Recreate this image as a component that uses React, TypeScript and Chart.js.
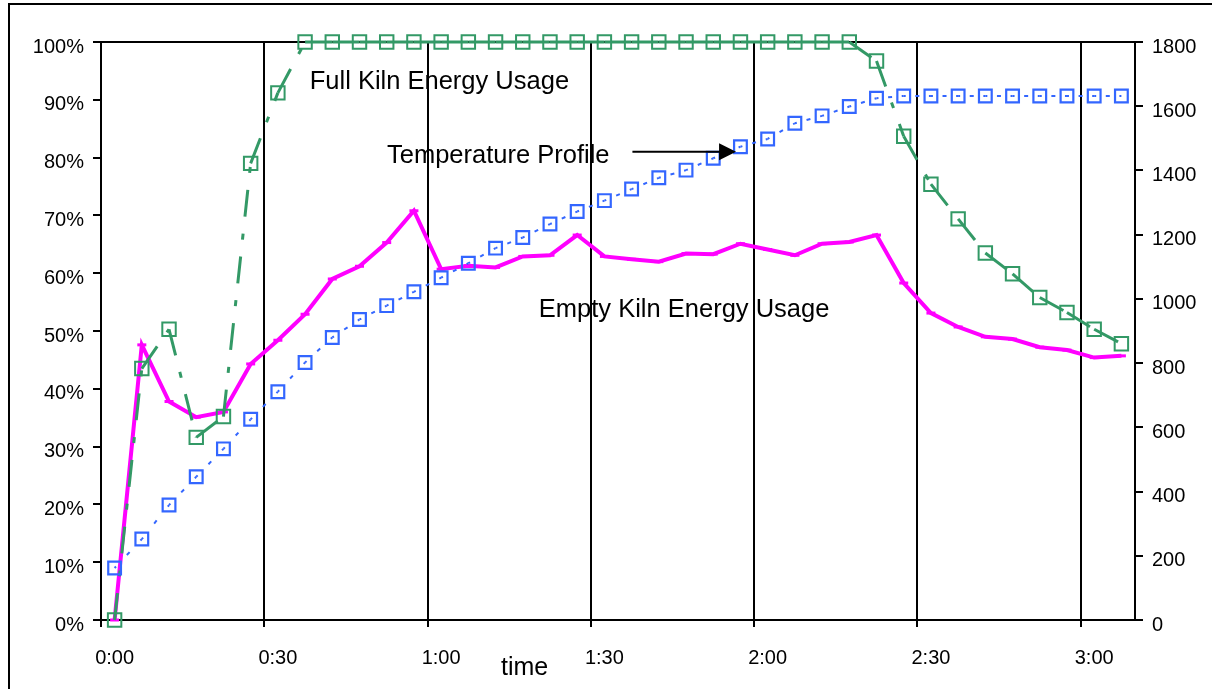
import React, { useEffect, useRef } from 'react';
import { Chart, registerables } from 'chart.js';

Chart.register(...registerables);

// ---- data ----
const timeLabels = [
  '0:00', '0:05', '0:10', '0:15', '0:20', '0:25',
  '0:30', '0:35', '0:40', '0:45', '0:50', '0:55',
  '1:00', '1:05', '1:10', '1:15', '1:20', '1:25',
  '1:30', '1:35', '1:40', '1:45', '1:50', '1:55',
  '2:00', '2:05', '2:10', '2:15', '2:20', '2:25',
  '2:30', '2:35', '2:40', '2:45', '2:50', '2:55',
  '3:00', '3:05',
];

// Empty kiln energy usage (%), left axis
const emptyKilnUsage = [
  0, 47.6, 37.8, 35.1, 36.0, 44.3, 48.4, 52.9, 59.0, 61.2, 65.3, 70.8,
  60.7, 61.3, 61.0, 62.9, 63.1, 66.6, 62.9, 62.4, 62.0, 63.4, 63.3, 65.1,
  64.1, 63.1, 65.1, 65.4, 66.6, 58.3, 53.1, 50.7, 49.0, 48.6, 47.2, 46.7,
  45.4, 45.7,
];

// Full kiln energy usage (%), left axis
const fullKilnUsage = [
  0, 43.5, 50.3, 31.6, 35.2, 79.0, 91.2, 100, 100, 100, 100, 100,
  100, 100, 100, 100, 100, 100, 100, 100, 100, 100, 100, 100,
  100, 100, 100, 100, 96.7, 83.7, 75.4, 69.4, 63.5, 59.9, 55.8, 53.2,
  50.3, 47.8,
];

// Temperature profile, right axis
const temperatureProfile = [
  162, 252, 358, 446, 533, 625, 711, 802, 880, 936, 979, 1022,
  1066, 1111, 1158, 1191, 1233, 1272, 1306, 1342, 1377, 1401, 1438, 1474,
  1498, 1547, 1570, 1599, 1625, 1632, 1632, 1632, 1632, 1632, 1632, 1632,
  1632, 1632,
];

const percentTicks = { min: 0, max: 100, step: 10 };
const tempTicks = { min: 0, max: 1800, step: 200 };

// text annotations: position given as (category index, percent on left axis)
const annotationTexts = [
  { text: 'Full Kiln Energy Usage', idx: 7.17, pct: 91.8 },
  { text: 'Temperature Profile', idx: 10.01, pct: 79.0 },
  { text: 'Empty Kiln Energy Usage', idx: 15.59, pct: 52.4 },
];
const arrowSpec = { fromIdx: 19.03, toIdx: 22.84, pct: 81.0 };
const xAxisTitle = { text: 'time', idx: 14.2 };

const FONT_FAMILY = "'Liberation Sans', Arial, sans-serif";
const GREEN = '#339966';
const BLUE = '#3366FF';
const MAGENTA = '#FF00FF';

const framePlugin = {
  id: 'frame',
  beforeDraw(chart: any) {
    const { ctx, width, height } = chart;
    ctx.save();
    ctx.fillStyle = '#fff';
    ctx.fillRect(0, 0, width, height);
    ctx.strokeStyle = '#000';
    ctx.lineWidth = 2;
    ctx.strokeRect(9, 4, width + 50, height + 50);
    ctx.restore();
  },
  beforeDatasetsDraw(chart: any) {
    const { ctx, chartArea } = chart;
    ctx.save();
    ctx.strokeStyle = '#000';
    ctx.lineWidth = 2;
    ctx.beginPath();
    ctx.moveTo(chartArea.left, Math.round(chartArea.top));
    ctx.lineTo(chartArea.right, Math.round(chartArea.top));
    ctx.stroke();
    ctx.restore();
  },
};

const annotationPlugin = {
  id: 'annotations',
  afterDatasetsDraw(chart: any) {
    const { ctx } = chart;
    const xs = chart.scales.x;
    const ys = chart.scales.y;
    ctx.save();
    ctx.fillStyle = '#000';
    ctx.font = `25.5px ${FONT_FAMILY}`;
    ctx.textAlign = 'left';
    ctx.textBaseline = 'alphabetic';
    for (const a of annotationTexts) {
      ctx.fillText(a.text, xs.getPixelForValue(a.idx), ys.getPixelForValue(a.pct));
    }
    // arrow
    const x0 = xs.getPixelForValue(arrowSpec.fromIdx);
    const x1 = xs.getPixelForValue(arrowSpec.toIdx);
    const y = ys.getPixelForValue(arrowSpec.pct);
    ctx.strokeStyle = '#000';
    ctx.lineWidth = 2;
    ctx.beginPath();
    ctx.moveTo(x0, y);
    ctx.lineTo(x1 - 14, y);
    ctx.stroke();
    ctx.beginPath();
    ctx.moveTo(x1, y);
    ctx.lineTo(x1 - 17, y - 8.5);
    ctx.lineTo(x1 - 17, y + 8.5);
    ctx.closePath();
    ctx.fill();
    // x axis title
    ctx.font = `25px ${FONT_FAMILY}`;
    ctx.fillText(xAxisTitle.text, xs.getPixelForValue(xAxisTitle.idx), xs.bottom - 14);
    ctx.restore();
  },
};

export default function App() {
  const canvasRef = useRef<HTMLCanvasElement | null>(null);

  useEffect(() => {
    if (!canvasRef.current) return;
    const tickFont = { family: FONT_FAMILY, size: 20 };
    const chart = new Chart(canvasRef.current, {
      type: 'line',
      data: {
        labels: timeLabels,
        datasets: [
          {
            label: 'Temperature Profile',
            data: temperatureProfile,
            yAxisID: 'y1',
            borderColor: BLUE,
            borderWidth: 2,
            pointStyle: 'rect',
            pointRadius: 9,
            pointBorderWidth: 2.2,
            pointBorderColor: BLUE,
            pointBackgroundColor: 'rgba(0,0,0,0)',
            tension: 0,
            fill: false,
            clip: false,
            segment: {
              borderDash: (c: any) => {
                const L = Math.hypot(c.p1.x - c.p0.x, c.p1.y - c.p0.y);
                return [4, Math.max(L / 2 - 4, 1)];
              },
              borderDashOffset: (c: any) => 2 + c.p0DataIndex * 0.0001,
            },
          },
          {
            label: 'Full Kiln Energy Usage',
            data: fullKilnUsage,
            yAxisID: 'y',
            borderColor: GREEN,
            borderWidth: 3,
            pointStyle: 'rect',
            pointRadius: 9.5,
            pointBorderWidth: 2,
            pointBorderColor: GREEN,
            pointBackgroundColor: 'rgba(0,0,0,0)',
            tension: 0,
            fill: false,
            clip: false,
            segment: {
              borderDash: () => [27, 17, 6, 17],
              borderDashOffset: (c: any) => c.p0DataIndex * 67,
            },
          },
          {
            label: 'Empty Kiln Energy Usage',
            data: emptyKilnUsage,
            yAxisID: 'y',
            borderColor: MAGENTA,
            borderWidth: 4,
            pointStyle: 'line',
            pointRadius: 4.5,
            pointBorderWidth: 3,
            pointBorderColor: MAGENTA,
            tension: 0,
            fill: false,
            clip: false,
          },
        ],
      },
      options: {
        animation: false,
        responsive: false,
        devicePixelRatio: 1,
        layout: { padding: { top: 42, left: 0, right: 0, bottom: 0 } },
        plugins: {
          legend: { display: false },
          tooltip: { enabled: false },
          title: { display: false },
        },
        events: [],
        scales: {
          x: {
            type: 'category',
            offset: true,
            grid: {
              offset: true,
              display: true,
              drawOnChartArea: true,
              drawTicks: true,
              tickLength: 7,
              lineWidth: 2,
              color: (c: any) => (c.index % 6 === 0 ? '#000' : 'rgba(0,0,0,0)'),
            },
            border: { display: true, color: '#000', width: 2 },
            ticks: {
              autoSkip: false,
              maxRotation: 0,
              minRotation: 0,
              color: '#000',
              font: tickFont,
              padding: 19,
              callback: (_v: any, i: number) => (i % 6 === 0 ? timeLabels[i] : ''),
            },
            afterFit: (s: any) => {
              s.height = 69;
            },
          },
          y: {
            type: 'linear',
            position: 'left',
            min: percentTicks.min,
            max: percentTicks.max,
            grid: {
              drawOnChartArea: false,
              drawTicks: true,
              tickLength: 8,
              lineWidth: 2,
              color: '#000',
            },
            border: { display: true, color: '#000', width: 2 },
            ticks: {
              stepSize: percentTicks.step,
              color: '#000',
              font: tickFont,
              padding: 9,
              labelOffset: 5,
              callback: (v: any) => `${v}%`,
            },
            afterFit: (s: any) => {
              s.width = 101;
            },
          },
          y1: {
            type: 'linear',
            position: 'right',
            min: tempTicks.min,
            max: tempTicks.max,
            grid: {
              drawOnChartArea: false,
              drawTicks: true,
              tickLength: 8,
              lineWidth: 2,
              color: '#000',
            },
            border: { display: true, color: '#000', width: 2 },
            ticks: {
              stepSize: tempTicks.step,
              color: '#000',
              font: tickFont,
              padding: 9,
              labelOffset: 5,
              callback: (v: any) => String(v),
            },
            afterFit: (s: any) => {
              s.width = 77;
            },
          },
        },
      },
      plugins: [framePlugin, annotationPlugin],
    });
    return () => chart.destroy();
  }, []);

  return (
    <div
      style={{
        position: 'absolute',
        left: 0,
        top: 0,
        width: 1212,
        height: 689,
        background: '#fff',
        overflow: 'hidden',
      }}
    >
      <canvas ref={canvasRef} width={1212} height={689} style={{ display: 'block' }} />
    </div>
  );
}
